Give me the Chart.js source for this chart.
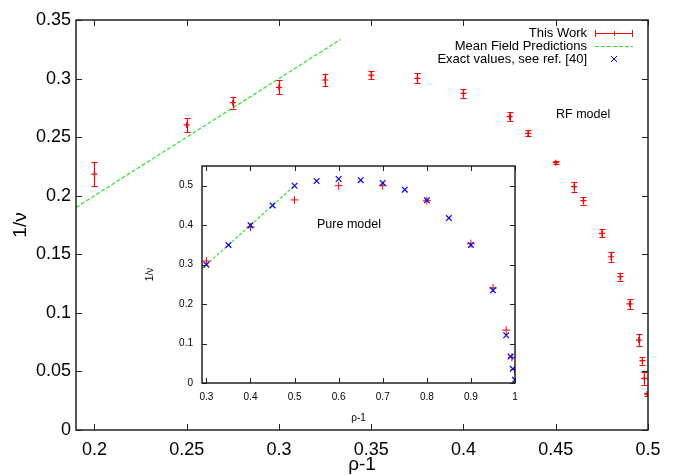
<!DOCTYPE html>
<html><head><meta charset="utf-8">
<script src="https://cdn.jsdelivr.net/npm/chart.js@4.4.0/dist/chart.umd.min.js"></script>
<style>
html,body{margin:0;padding:0;background:#fff;}
#wrap{position:relative;width:677px;height:476px;overflow:hidden;}
#main{position:absolute;left:0;top:0;}
#inset{position:absolute;left:120px;top:150px;}
</style></head><body>
<div id="wrap"><canvas id="main" width="677" height="476"></canvas><canvas id="inset" width="420" height="290"></canvas></div>
<script>
// ---------- data: RF model (main plot) ----------
const mainRho = [0.2, 0.25, 0.275, 0.3, 0.325, 0.35, 0.375, 0.4, 0.425, 0.435, 0.45, 0.46, 0.465, 0.475, 0.48, 0.485, 0.49, 0.495, 0.497, 0.498, 0.4995];
const mainNu  = [0.2185, 0.2604, 0.2794, 0.2925, 0.2988, 0.303, 0.3002, 0.2874, 0.2675, 0.2533, 0.2282, 0.2077, 0.1958, 0.1679, 0.1479, 0.1309, 0.1076, 0.0768, 0.0592, 0.0441, 0.0307];
const mainErr = [0.0105, 0.006, 0.005, 0.006, 0.0055, 0.0037, 0.0043, 0.0037, 0.004, 0.0025, 0.0015, 0.0043, 0.0034, 0.0034, 0.0043, 0.0034, 0.0043, 0.0049, 0.0034, 0.0054, 0.0013];
const mfRho = [0.19, 0.3333];
const mfNu  = [0.19, 0.3333];
// ---------- data: pure model (inset) ----------
const pureRho = [0.3, 0.4, 0.5, 0.6, 0.7, 0.8, 0.9, 0.95, 0.98, 0.993, 0.999];
const pureNu  = [0.309, 0.395, 0.464, 0.50, 0.50, 0.462, 0.353, 0.241, 0.134, 0.065, 0.034];
const exactRho = [0.3, 0.35, 0.4, 0.45, 0.5, 0.55, 0.6, 0.65, 0.7, 0.75, 0.8, 0.85, 0.9, 0.95, 0.98, 0.99, 0.995, 1.0];
const exactNu  = [0.30, 0.35, 0.40, 0.45, 0.50, 0.512, 0.517, 0.514, 0.507, 0.49, 0.463, 0.418, 0.35, 0.235, 0.121, 0.067, 0.036, 0.008];
const mfInsetRho = [0.29, 0.5];
const mfInsetNu  = [0.29, 0.5];
// ---------- ticks & labels ----------
const mainXTicks = [0.2, 0.25, 0.3, 0.35, 0.4, 0.45, 0.5];
const mainYTicks = [0, 0.05, 0.1, 0.15, 0.2, 0.25, 0.3, 0.35];
const insetXTicks = [0.3, 0.4, 0.5, 0.6, 0.7, 0.8, 0.9, 1];
const insetYTicks = [0, 0.1, 0.2, 0.3, 0.4, 0.5];
const legendLabels = ['This Work', 'Mean Field Predictions', 'Exact values, see ref. [40]'];
const xTitle = 'ρ-1';
const yTitle = '1/ν';
const mainNote = 'RF model';
const insetNote = 'Pure model';

const FONT = "'Liberation Sans', Arial, Helvetica, sans-serif";
Chart.defaults.font.family = FONT;
Chart.defaults.color = '#000';
const RED = 'rgb(255,0,0)', GREEN = 'rgb(40,230,40)', BLUE = 'rgb(0,0,255)';

function pts(xs, ys) { return xs.map((x, i) => ({x: x, y: ys[i]})); }
function fmt(v) { return String(parseFloat(Number(v).toFixed(4))); }

const framePlugin = {
  id: 'frame',
  beforeDraw(chart) {
    const {ctx, chartArea: a} = chart;
    ctx.save(); ctx.fillStyle = '#fff';
    ctx.fillRect(a.left, a.top, a.right - a.left, a.bottom - a.top);
    ctx.restore();
  },
  afterDraw(chart, args, opts) {
    const {ctx, chartArea: a, scales: {x, y}} = chart;
    const L = opts.tick;
    ctx.save();
    ctx.strokeStyle = '#222'; ctx.lineWidth = 1;
    ctx.beginPath();
    x.ticks.forEach(t => { const p = Math.round(x.getPixelForValue(t.value)) + 0.5;
      ctx.moveTo(p, a.bottom); ctx.lineTo(p, a.bottom - L); ctx.moveTo(p, a.top); ctx.lineTo(p, a.top + L); });
    y.ticks.forEach(t => { const p = Math.round(y.getPixelForValue(t.value)) + 0.5;
      ctx.moveTo(a.left, p); ctx.lineTo(a.left + L, p); ctx.moveTo(a.right, p); ctx.lineTo(a.right - L, p); });
    ctx.stroke();
    ctx.lineWidth = opts.width;
    ctx.strokeRect(a.left, a.top, a.right - a.left, a.bottom - a.top);
    ctx.restore();
  }
};

const errorBarPlugin = {
  id: 'errbars',
  afterDatasetsDraw(chart) {
    const {ctx, chartArea: a, scales: {x, y}} = chart;
    ctx.save();
    ctx.beginPath(); ctx.rect(a.left, a.top, a.right - a.left, a.bottom - a.top); ctx.clip();
    ctx.strokeStyle = RED; ctx.lineWidth = 1.2;
    ctx.beginPath();
    mainRho.forEach((r, i) => {
      const px = Math.round(x.getPixelForValue(r)) + 0.5;
      const y1 = y.getPixelForValue(mainNu[i] - mainErr[i]);
      const y2 = y.getPixelForValue(mainNu[i] + mainErr[i]);
      ctx.moveTo(px, y1); ctx.lineTo(px, y2);
      ctx.moveTo(px - 3, Math.round(y1) + 0.5); ctx.lineTo(px + 3, Math.round(y1) + 0.5);
      ctx.moveTo(px - 3, Math.round(y2) + 0.5); ctx.lineTo(px + 3, Math.round(y2) + 0.5);
    });
    ctx.stroke();
    ctx.restore();
  }
};

const mainTextPlugin = {
  id: 'mainText',
  afterDraw(chart) {
    const ctx = chart.ctx;
    ctx.save();
    ctx.font = '13px ' + FONT; ctx.fillStyle = '#000';
    ctx.textAlign = 'right'; ctx.textBaseline = 'middle';
    const rows = [33, 46, 59];
    legendLabels.forEach((t, i) => ctx.fillText(t, 587, rows[i]));
    // sample 1: error bar
    ctx.strokeStyle = RED; ctx.lineWidth = 1;
    ctx.beginPath();
    ctx.moveTo(595, rows[0] + 0.5); ctx.lineTo(633, rows[0] + 0.5);
    ctx.moveTo(595.5, rows[0] - 3); ctx.lineTo(595.5, rows[0] + 4);
    ctx.moveTo(632.5, rows[0] - 3); ctx.lineTo(632.5, rows[0] + 4);
    ctx.moveTo(614.5, rows[0] - 2); ctx.lineTo(614.5, rows[0] + 3);
    ctx.stroke();
    // sample 2: dashed green
    ctx.strokeStyle = GREEN; ctx.setLineDash([4, 2]);
    ctx.beginPath(); ctx.moveTo(595, rows[1] + 0.5); ctx.lineTo(633, rows[1] + 0.5); ctx.stroke();
    ctx.setLineDash([]);
    // sample 3: blue x
    ctx.strokeStyle = BLUE;
    ctx.beginPath();
    ctx.moveTo(611, rows[2] - 3); ctx.lineTo(617, rows[2] + 3);
    ctx.moveTo(617, rows[2] - 3); ctx.lineTo(611, rows[2] + 3);
    ctx.stroke();
    ctx.textAlign = 'left'; ctx.font = '12.5px ' + FONT;
    ctx.fillText(mainNote, 556, 115);
    ctx.restore();
  }
};

new Chart(document.getElementById('main'), {
  type: 'scatter',
  data: {
    datasets: [
      {label: legendLabels[1], data: pts(mfRho, mfNu), showLine: true, pointRadius: 0, borderColor: GREEN, borderWidth: 1.2, borderDash: [4, 2], order: 2},
      {label: legendLabels[0], data: pts(mainRho, mainNu), pointStyle: 'cross', pointRadius: 3, pointBorderWidth: 1.2, borderColor: RED, backgroundColor: RED, order: 1}
    ]
  },
  options: {
    responsive: false, animation: false, devicePixelRatio: 1,
    layout: {padding: {top: 20, right: 29, left: 0, bottom: 0}},
    plugins: {legend: {display: false}, tooltip: {enabled: false}, frame: {tick: 6, width: 1.5}},
    scales: {
      x: {
        type: 'linear', min: 0.19, max: 0.5,
        grid: {display: false, drawTicks: false}, border: {display: false},
        afterBuildTicks: s => { s.ticks = mainXTicks.map(v => ({value: v})); },
        afterFit: s => { s.height = 46; },
        ticks: {font: {size: 18}, padding: 9, maxRotation: 0, callback: v => fmt(v)},
        title: {display: true, text: xTitle, font: {size: 19}, padding: {top: 0, bottom: 0}}
      },
      y: {
        type: 'linear', min: 0, max: 0.35,
        grid: {display: false, drawTicks: false}, border: {display: false},
        afterBuildTicks: s => { s.ticks = mainYTicks.map(v => ({value: v})); },
        afterFit: s => { s.width = 76; },
        ticks: {font: {size: 18}, padding: 5, callback: v => fmt(v)},
        title: {display: true, text: yTitle, font: {size: 19}, padding: {top: 9, bottom: 0}}
      }
    }
  },
  plugins: [framePlugin, errorBarPlugin, mainTextPlugin]
});

const insetTextPlugin = {
  id: 'insetText',
  afterDraw(chart) {
    const ctx = chart.ctx;
    ctx.save();
    ctx.font = '12.5px ' + FONT; ctx.fillStyle = '#000';
    ctx.textAlign = 'left'; ctx.textBaseline = 'middle';
    ctx.fillText(insetNote, 197, 75);
    ctx.restore();
  }
};

new Chart(document.getElementById('inset'), {
  type: 'scatter',
  data: {
    datasets: [
      {label: 'mf', data: pts(mfInsetRho, mfInsetNu), showLine: true, pointRadius: 0, borderColor: GREEN, borderWidth: 1.2, borderDash: [3, 2], order: 3},
      {label: 'pure', data: pts(pureRho, pureNu), pointStyle: 'cross', pointRadius: 4, pointBorderWidth: 1, borderColor: RED, backgroundColor: RED, order: 2},
      {label: 'exact', data: pts(exactRho, exactNu), pointStyle: 'crossRot', pointRadius: 4, pointBorderWidth: 1.2, borderColor: BLUE, backgroundColor: BLUE, order: 1}
    ]
  },
  options: {
    responsive: false, animation: false, devicePixelRatio: 1,
    layout: {padding: {top: 16, right: 25, left: 0, bottom: 0}},
    plugins: {legend: {display: false}, tooltip: {enabled: false}, frame: {tick: 5, width: 1.5}},
    scales: {
      x: {
        type: 'linear', min: 0.29, max: 1.0,
        grid: {display: false, drawTicks: false}, border: {display: false},
        afterBuildTicks: s => { s.ticks = insetXTicks.map(v => ({value: v})); },
        afterFit: s => { s.height = 57; },
        ticks: {font: {size: 10}, padding: 8, maxRotation: 0, callback: v => fmt(v)},
        title: {display: true, text: xTitle, font: {size: 10}, padding: {top: 0, bottom: 16}}
      },
      y: {
        type: 'linear', min: 0, max: 0.55,
        grid: {display: false, drawTicks: false}, border: {display: false},
        afterBuildTicks: s => { s.ticks = insetYTicks.map(v => ({value: v})); },
        afterFit: s => { s.width = 82; },
        ticks: {font: {size: 10}, padding: 9, callback: v => fmt(v)},
        title: {display: true, text: yTitle, font: {size: 10}, padding: {top: 24, bottom: 0}}
      }
    }
  },
  plugins: [framePlugin, insetTextPlugin]
});
</script>
</body></html>
